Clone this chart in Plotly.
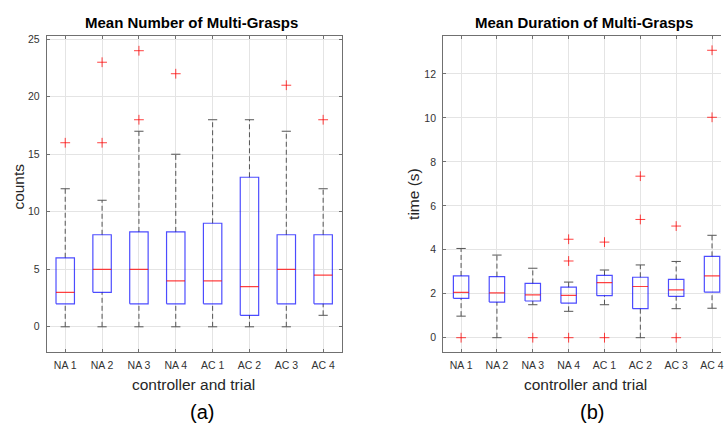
import plotly.graph_objects as go

categories = ["NA 1", "NA 2", "NA 3", "NA 4", "AC 1", "AC 2", "AC 3", "AC 4"]

counts_low = [0, 0, 0, 0, 0, 0, 0, 1]
counts_q1 = [2, 3, 2, 2, 2, 1, 2, 2]
counts_med = [3, 5, 5, 4, 4, 3.5, 5, 4.5]
counts_q3 = [6, 8, 8.25, 8.25, 9, 13, 8, 8]
counts_high = [12, 11, 17, 15, 18, 18, 17, 12]
counts_outliers = [[16], [16, 23], [18, 24], [22], [], [], [21], [18]]

time_low = [0.98, 0, 1.50, 1.20, 1.50, 0, 1.32, 1.34]
time_q1 = [1.79, 1.62, 1.67, 1.57, 1.91, 1.32, 1.88, 2.07]
time_med = [2.06, 2.04, 1.95, 1.93, 2.51, 2.33, 2.18, 2.81]
time_q3 = [2.81, 2.78, 2.47, 2.30, 2.84, 2.75, 2.65, 3.70]
time_high = [4.06, 3.76, 3.16, 2.53, 3.08, 3.31, 3.47, 4.66]
time_outliers = [[0], [], [0], [0, 3.49, 4.48], [0, 4.35], [5.38, 7.35], [0, 5.08], [10.03, 13.08]]

W, H = 724, 426
FONT = "Liberation Sans, Arial, sans-serif"
BLUE = "rgba(0,0,255,0.7)"
RED = "rgba(255,0,0,0.75)"
WHISK = "#555555"

fig = go.Figure()


def add_boxes(xa, ya, low, q1, med, q3, high, outs, bw, cw):
    xs_w, ys_w, xs_c, ys_c, xs_b, ys_b, xs_m, ys_m, xs_o, ys_o = ([] for _ in range(10))
    for i in range(len(categories)):
        p = i + 1
        xs_w += [p, p, None, p, p, None]
        ys_w += [q3[i], high[i], None, low[i], q1[i], None]
        xs_c += [p - cw / 2, p + cw / 2, None, p - cw / 2, p + cw / 2, None]
        ys_c += [high[i], high[i], None, low[i], low[i], None]
        xs_b += [p - bw / 2, p + bw / 2, p + bw / 2, p - bw / 2, p - bw / 2, None]
        ys_b += [q1[i], q1[i], q3[i], q3[i], q1[i], None]
        xs_m += [p - bw / 2, p + bw / 2, None]
        ys_m += [med[i], med[i], None]
        for v in outs[i]:
            xs_o.append(p)
            ys_o.append(v)
    common = dict(xaxis=xa, yaxis=ya, showlegend=False, hoverinfo="skip")
    fig.add_trace(go.Scatter(x=xs_w, y=ys_w, mode="lines",
                             line=dict(color=WHISK, width=1, dash="5px,3px"), **common))
    fig.add_trace(go.Scatter(x=xs_c, y=ys_c, mode="lines",
                             line=dict(color=WHISK, width=1), **common))
    fig.add_trace(go.Scatter(x=xs_b, y=ys_b, mode="lines",
                             line=dict(color=BLUE, width=1.2), **common))
    fig.add_trace(go.Scatter(x=xs_m, y=ys_m, mode="lines",
                             line=dict(color=RED, width=1.2), **common))
    fig.add_trace(go.Scatter(x=xs_o, y=ys_o, mode="markers",
                             marker=dict(symbol="cross-thin", size=7,
                                         line=dict(color=RED, width=1)), **common))


add_boxes("x", "y", counts_low, counts_q1, counts_med, counts_q3, counts_high,
          counts_outliers, 0.5, 0.25)
add_boxes("x2", "y2", time_low, time_q1, time_med, time_q3, time_high,
          time_outliers, 0.43, 0.26)

ydom = [1 - 351 / H, 1 - 33 / H]
axis_common = dict(showline=True, linecolor="#707070", linewidth=1,
                   ticks="inside", ticklen=3, tickcolor="#707070",
                   showgrid=True, gridcolor="#e4e4e4", gridwidth=1,
                   zeroline=False,
                   tickfont=dict(family=FONT, size=10.5, color="#333333"))

tickvals = list(range(1, len(categories) + 1))

fig.update_layout(
    width=W, height=H, margin=dict(l=0, r=0, t=0, b=0),
    paper_bgcolor="white", plot_bgcolor="white",
    xaxis=dict(domain=[47 / W, 343 / W], range=[0.5, 8.5], tickvals=tickvals,
               ticktext=categories, mirror="ticks", anchor="y",
               ticklabelstandoff=4, **axis_common),
    yaxis=dict(domain=ydom, range=[-2.15, 25.3], tickvals=[0, 5, 10, 15, 20, 25],
               mirror="ticks", anchor="x", ticklabelstandoff=4, **axis_common),
    xaxis2=dict(domain=[445 / W, 1.0], range=[0.5, 0.5 + (724 - 445) / 36], tickvals=tickvals,
                ticktext=categories, mirror="ticks", anchor="y2",
                ticklabeloverflow="allow", ticklabelstandoff=4, **axis_common),
    yaxis2=dict(domain=ydom, range=[-0.63, 13.74], tickvals=[0, 2, 4, 6, 8, 10, 12],
                mirror=False, anchor="x2", ticklabelstandoff=4, **axis_common),
)

ann = [
    dict(text="<b>Mean Number of Multi-Grasps</b>", x=192 / W, y=1 - 20 / H, size=15, color="black"),
    dict(text="<b>Mean Duration of Multi-Grasps</b>", x=586 / W, y=1 - 20 / H, size=15, color="black"),
    dict(text="controller and trial", x=194 / W, y=1 - 384 / H, size=15.5, color="#262626"),
    dict(text="controller and trial", x=588 / W, y=1 - 384 / H, size=15.5, color="#262626"),
    dict(text="(a)", x=203 / W, y=1 - 412 / H, size=20, color="black"),
    dict(text="(b)", x=594 / W, y=1 - 412 / H, size=20, color="black"),
]
for a in ann:
    fig.add_annotation(text=a["text"], x=a["x"], y=a["y"], xref="paper", yref="paper",
                       xanchor="center", yanchor="middle", showarrow=False,
                       font=dict(family=FONT, size=a["size"], color=a["color"]))

fig.add_annotation(text="counts", x=19 / W, y=1 - 185 / H, xref="paper", yref="paper",
                   xanchor="center", yanchor="middle", showarrow=False, textangle=-90,
                   font=dict(family=FONT, size=15.5, color="#262626"))
fig.add_annotation(text="time (s)", x=415 / W, y=1 - 192 / H, xref="paper", yref="paper",
                   xanchor="center", yanchor="middle", showarrow=False, textangle=-90,
                   font=dict(family=FONT, size=15.5, color="#262626"))

fig.write_html("out.html")
